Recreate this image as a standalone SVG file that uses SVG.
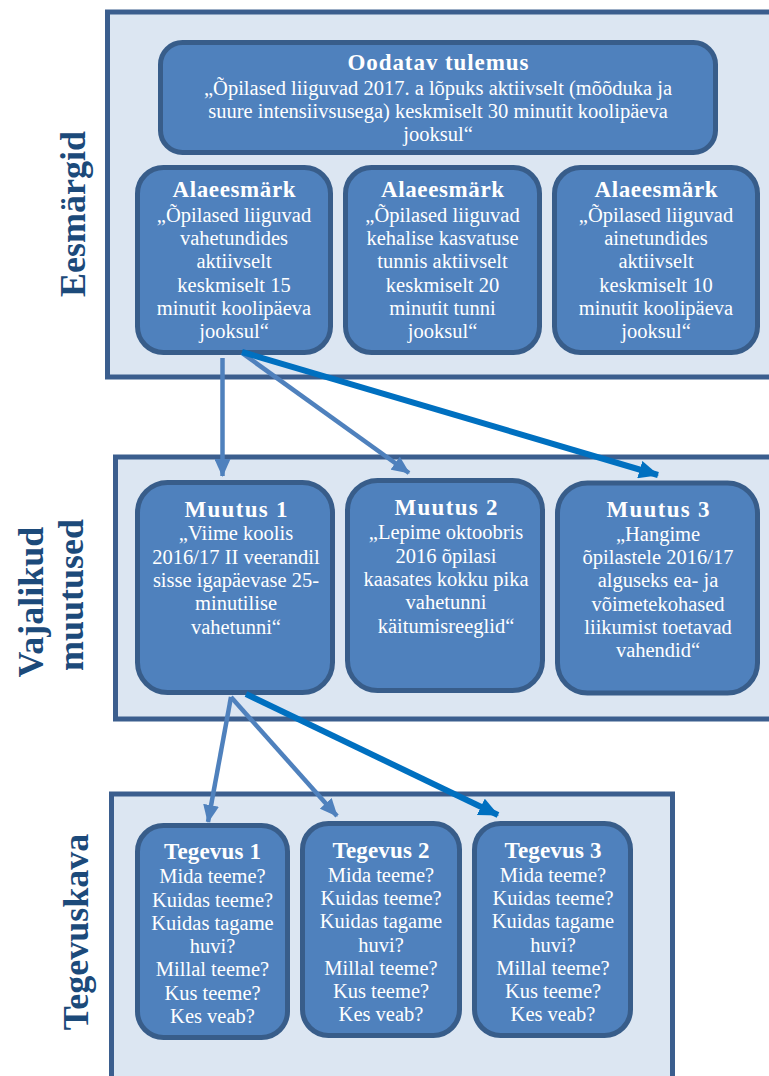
<svg xmlns="http://www.w3.org/2000/svg" width="769" height="1076" viewBox="0 0 769 1076">
<style>
.panel{fill:#DCE6F2;stroke:#3B5E8E;stroke-width:5}
.node{fill:#4F81BD;stroke:#385D8A;stroke-width:5}
.t{font-family:"Liberation Serif","Times New Roman",serif;font-size:20.5px;fill:#FFFFFF;text-anchor:middle}
.h{font-family:"Liberation Serif","Times New Roman",serif;font-size:23px;font-weight:bold;fill:#FFFFFF;text-anchor:middle}
.side{font-family:"Liberation Serif","Times New Roman",serif;font-size:36px;font-weight:bold;fill:#1C4A7A;text-anchor:middle}
.c1{fill:none;stroke:#4F81BD;stroke-width:4.5}
.c2{fill:none;stroke:#0070C0;stroke-width:6}
</style>
<defs>
<marker id="ah1" markerUnits="userSpaceOnUse" markerWidth="18" markerHeight="16" viewBox="0 0 18 16" refX="17" refY="8" orient="auto">
<path d="M0,0 L18,8 L0,16 Z" fill="#4F81BD"/>
</marker>
<marker id="ah2" markerUnits="userSpaceOnUse" markerWidth="20" markerHeight="18" viewBox="0 0 20 18" refX="19" refY="9" orient="auto">
<path d="M0,0 L20,9 L0,18 Z" fill="#0070C0"/>
</marker>
</defs>

<g id="panel-eesmargid">
<rect class="panel" x="107.5" y="12" width="680" height="365"/>
<text class="side" transform="translate(85,214) rotate(-90)">Eesmärgid</text>
</g>
<g id="panel-muutused">
<rect class="panel" x="115.5" y="457" width="680" height="262"/>
<text class="side" transform="translate(43,602) rotate(-90)">Vajalikud</text>
<text class="side" transform="translate(83,595) rotate(-90)">muutused</text>
</g>
<g id="panel-tegevuskava">
<rect class="panel" x="111.5" y="794" width="561" height="300"/>
<text class="side" transform="translate(88,932) rotate(-90)">Tegevuskava</text>
</g>

<g id="node-oodatav">
<rect class="node" x="160.5" y="42.5" width="555" height="110" rx="22"/>
<text class="h" x="438" y="70" textLength="181">Oodatav tulemus</text>
<text class="t" x="438" y="95">„Õpilased liiguvad 2017. a lõpuks aktiivselt (mõõduka ja</text>
<text class="t" x="438" y="118">suure intensiivsusega) keskmiselt 30 minutit koolipäeva</text>
<text class="t" x="438" y="141">jooksul“</text>
</g>

<g id="node-alaeesmark-1">
<rect class="node" x="137.5" y="167.5" width="193" height="185" rx="26"/>
<text class="h" x="234" y="197" textLength="123">Alaeesmärk</text>
<text class="t" x="234" y="221.5">„Õpilased liiguvad</text>
<text class="t" x="234" y="245">vahetundides</text>
<text class="t" x="234" y="268">aktiivselt</text>
<text class="t" x="234" y="291.5">keskmiselt 15</text>
<text class="t" x="234" y="315">minutit koolipäeva</text>
<text class="t" x="234" y="338">jooksul“</text>
</g>
<g id="node-alaeesmark-2">
<rect class="node" x="345.5" y="167.5" width="194" height="185" rx="26"/>
<text class="h" x="442.5" y="197" textLength="123">Alaeesmärk</text>
<text class="t" x="442.5" y="221.5">„Õpilased liiguvad</text>
<text class="t" x="442.5" y="245">kehalise kasvatuse</text>
<text class="t" x="442.5" y="268">tunnis aktiivselt</text>
<text class="t" x="442.5" y="291.5">keskmiselt 20</text>
<text class="t" x="442.5" y="315">minutit tunni</text>
<text class="t" x="442.5" y="338">jooksul“</text>
</g>
<g id="node-alaeesmark-3">
<rect class="node" x="554.5" y="167.5" width="203" height="185" rx="26"/>
<text class="h" x="656" y="197" textLength="123">Alaeesmärk</text>
<text class="t" x="656" y="221.5">„Õpilased liiguvad</text>
<text class="t" x="656" y="245">ainetundides</text>
<text class="t" x="656" y="268">aktiivselt</text>
<text class="t" x="656" y="291.5">keskmiselt 10</text>
<text class="t" x="656" y="315">minutit koolipäeva</text>
<text class="t" x="656" y="338">jooksul“</text>
</g>

<g id="node-muutus-1">
<rect class="node" x="137.5" y="482.5" width="195" height="210" rx="30"/>
<text class="h" x="236" y="517" textLength="103">Muutus 1</text>
<text class="t" x="236" y="540">„Viime koolis</text>
<text class="t" x="236" y="563.5">2016/17 II veerandil</text>
<text class="t" x="236" y="587">sisse igapäevase 25-</text>
<text class="t" x="236" y="610">minutilise</text>
<text class="t" x="236" y="633.5">vahetunni“</text>
</g>
<g id="node-muutus-2">
<rect class="node" x="347.5" y="480.5" width="195" height="210" rx="30"/>
<text class="h" x="446" y="515" textLength="103">Muutus 2</text>
<text class="t" x="446" y="539">„Lepime oktoobris</text>
<text class="t" x="446" y="562.5">2016 õpilasi</text>
<text class="t" x="446" y="586">kaasates kokku pika</text>
<text class="t" x="446" y="609">vahetunni</text>
<text class="t" x="446" y="632.5">käitumisreeglid“</text>
</g>
<g id="node-muutus-3">
<rect class="node" x="557.5" y="483" width="200" height="210" rx="30"/>
<text class="h" x="658" y="517" textLength="103">Muutus 3</text>
<text class="t" x="658" y="540.5">„Hangime</text>
<text class="t" x="658" y="564">õpilastele 2016/17</text>
<text class="t" x="658" y="587">alguseks ea- ja</text>
<text class="t" x="658" y="610.5">võimetekohased</text>
<text class="t" x="658" y="633.5">liikumist toetavad</text>
<text class="t" x="658" y="657">vahendid“</text>
</g>

<g id="node-tegevus-1">
<rect class="node" x="137.5" y="825.5" width="150" height="212" rx="26"/>
<text class="h" x="212.5" y="859" textLength="97">Tegevus 1</text>
<text class="t" x="212.5" y="883">Mida teeme?</text>
<text class="t" x="212.5" y="906.5">Kuidas teeme?</text>
<text class="t" x="212.5" y="929.5">Kuidas tagame</text>
<text class="t" x="212.5" y="953">huvi?</text>
<text class="t" x="212.5" y="976">Millal teeme?</text>
<text class="t" x="212.5" y="999.5">Kus teeme?</text>
<text class="t" x="212.5" y="1022.5">Kes veab?</text>
</g>
<g id="node-tegevus-2">
<rect class="node" x="302.5" y="823.5" width="157" height="212" rx="26"/>
<text class="h" x="381" y="857.5" textLength="97">Tegevus 2</text>
<text class="t" x="381" y="881.5">Mida teeme?</text>
<text class="t" x="381" y="905">Kuidas teeme?</text>
<text class="t" x="381" y="928">Kuidas tagame</text>
<text class="t" x="381" y="951.5">huvi?</text>
<text class="t" x="381" y="974.5">Millal teeme?</text>
<text class="t" x="381" y="998">Kus teeme?</text>
<text class="t" x="381" y="1021">Kes veab?</text>
</g>
<g id="node-tegevus-3">
<rect class="node" x="474.5" y="823.5" width="156" height="212" rx="26"/>
<text class="h" x="553" y="857.5" textLength="97">Tegevus 3</text>
<text class="t" x="553" y="881.5">Mida teeme?</text>
<text class="t" x="553" y="905">Kuidas teeme?</text>
<text class="t" x="553" y="928">Kuidas tagame</text>
<text class="t" x="553" y="951.5">huvi?</text>
<text class="t" x="553" y="974.5">Millal teeme?</text>
<text class="t" x="553" y="998">Kus teeme?</text>
<text class="t" x="553" y="1021">Kes veab?</text>
</g>

<g id="connectors">
<line class="c1" x1="222.5" y1="358" x2="222.5" y2="476" marker-end="url(#ah1)"/>
<line class="c1" x1="242" y1="353" x2="409" y2="473" marker-end="url(#ah1)"/>
<line class="c2" x1="242" y1="352" x2="658" y2="475" marker-end="url(#ah2)"/>
<line class="c1" x1="231" y1="697" x2="208" y2="822" marker-end="url(#ah1)"/>
<line class="c1" x1="231" y1="697" x2="337" y2="816" marker-end="url(#ah1)"/>
<line class="c2" x1="246" y1="694" x2="498" y2="815" marker-end="url(#ah2)"/>
</g>
</svg>
